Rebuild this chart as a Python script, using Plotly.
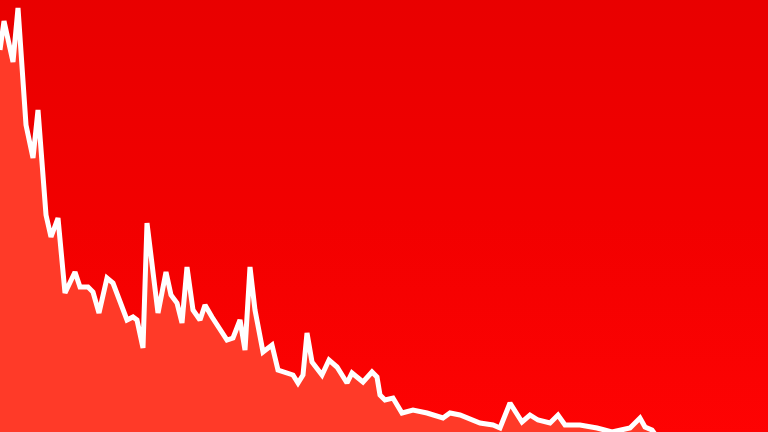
import plotly.graph_objects as go

# time index (days) and value
days = [0, 4, 13, 18, 26, 33, 38, 46, 51, 58, 65, 75, 80, 88, 93, 99, 107, 113, 127, 133,
        137, 143, 147, 154, 158, 166, 171, 177, 182, 187, 193, 200, 205, 212, 227, 233,
        240, 245, 250, 255, 263, 272, 278, 293, 298, 303, 307, 312, 322, 329, 337, 347,
        352, 363, 372, 377, 380, 385, 393, 402, 413, 427, 443, 450, 460, 480, 493, 500,
        510, 522, 530, 538, 550, 558, 565, 580, 597, 612, 623, 630, 640, 645, 652, 662]
values = [382, 411, 370, 424, 307, 274, 322, 217, 195, 214, 139, 160, 145, 145, 140, 119,
          154, 149, 112, 115, 112, 84, 209, 152, 119, 160, 137, 129, 109, 165, 122, 112,
          127, 115, 92, 94, 112, 82, 165, 122, 80, 87, 62, 57, 49, 57, 99, 70, 57, 72,
          65, 49, 59, 50, 60, 55, 37, 32, 34, 19, 22, 19, 14, 19, 17, 9, 7, 4, 29, 10,
          17, 12, 9, 17, 7, 7, 4, 0, 2, 4, 14, 5, 2, -12]

fig = go.Figure()
# background gradient band
fig.add_trace(go.Scatter(
    x=[-10, 780, 780, -10, -10], y=[-20, -20, 450, 450, -20], mode="lines",
    line=dict(width=0), fill="toself", hoverinfo="skip",
    fillgradient=dict(type="vertical",
                      colorscale=[[0, "#FF0303"], [0.5, "#F20000"], [1, "#E80000"]]),
    showlegend=False))
fig.add_trace(go.Scatter(
    x=days, y=values, mode="lines",
    line=dict(color="white", width=5),
    fill="tozeroy", fillcolor="#FF3A28",
    showlegend=False))
fig.update_layout(
    width=768, height=432,
    margin=dict(l=0, r=0, t=0, b=0),
    paper_bgcolor="#F00000", plot_bgcolor="#F00000",
    xaxis=dict(range=[0, 768], visible=False),
    yaxis=dict(range=[0, 432], visible=False),
)
fig.write_html("out.html", config={"displayModeBar": False},
               post_script="document.body.style.margin='0';document.body.style.overflow='hidden';")
